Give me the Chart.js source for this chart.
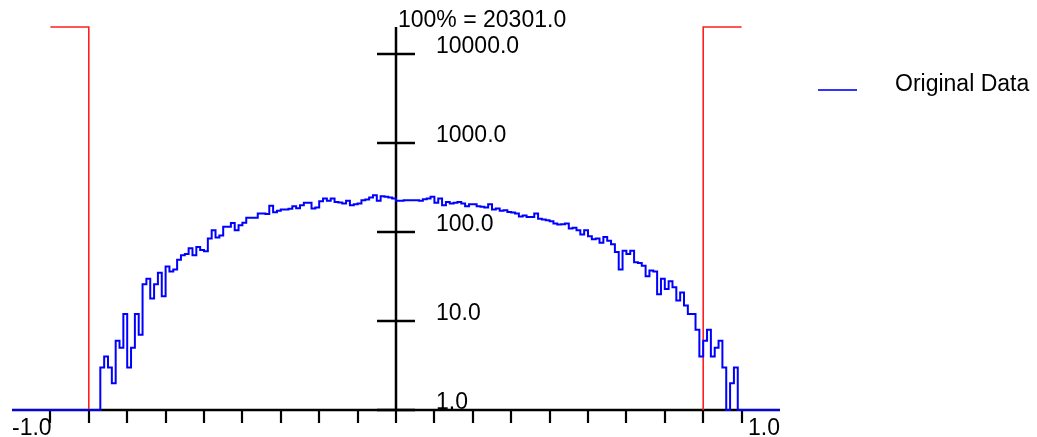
<!DOCTYPE html>
<html>
<head>
<meta charset="utf-8">
<script src="https://cdn.jsdelivr.net/npm/chart.js@4/dist/chart.umd.min.js"></script>
<style>
  html, body { margin: 0; padding: 0; background: #fff; }
  #wrap { width: 1037px; height: 437px; position: relative; }
</style>
</head>
<body>
<div id="wrap"><canvas id="myChart"></canvas></div>
<script>
// histogram bins, width 0.01, first bin starts at -0.77
var binStart = -0.77;
var binWidth = 0.01;
var counts = [
  3, 4, 3, 2, 6, 5, 12, 3, 5, 12,
  7, 26, 30, 18, 26, 35, 19, 41, 36, 38,
  49, 55, 57, 66, 55, 68, 63, 61, 85, 105,
  87, 92, 115, 115, 127, 105, 120, 128, 145, 145,
  145, 162, 162, 160, 198, 168, 174, 180, 180, 183,
  196, 186, 201, 214, 214, 185, 189, 223, 239, 225,
  239, 219, 216, 210, 225, 201, 206, 210, 229, 233,
  245, 261, 225, 254, 250, 245, 239,
  225, 225, 229, 229, 229, 229, 225, 235, 239, 250,
  214, 239, 201, 219, 210, 214, 219, 210, 196, 206,
  206, 196, 193, 189, 206, 180, 185, 174, 176, 169,
  166, 162, 150, 154, 148, 148, 162, 142, 139, 136,
  133, 125, 122, 123, 125, 110, 112, 105, 94, 105,
  90, 83, 85, 76, 88, 80, 73, 60, 38, 62,
  57, 62, 46, 45, 42, 32, 37, 36, 20, 30,
  23, 28, 24, 17, 21, 15, 12, 12, 8, 4,
  6, 8, 4, 5, 6, 3, 0, 2, 3
];
var totalLabel = '100% = 20301.0';
var fullScale = 20301;

// red limit markers at +-0.8
var limitX = [-0.9, -0.8, -0.8, null, 0.8, 0.8, 0.9];
var limitY = [20301, 20301, 1, null, 1, 20301, 20301];

var xTicks = [-0.9, -0.8, -0.7, -0.6, -0.5, -0.4, -0.3, -0.2, -0.1, 0.0,
              0.1, 0.2, 0.3, 0.4, 0.5, 0.6, 0.7, 0.8, 0.9];
var xEndLabels = ['-1.0', '1.0'];
var yTicks = [1, 10, 100, 1000, 10000];
var yTickLabels = ['1.0', '10.0', '100.0', '1000.0', '10000.0'];
var legendLabel = 'Original Data';

var FONT = '23px "Liberation Sans", Arial, sans-serif';

function histogramPoints(){
    var pts = [ { x: -1.0, y: 1 } ];
    for ( var i = 0; i < counts.length; i++ ){
        var edge = Math.round( ( binStart + i * binWidth ) * 100 ) / 100;
        pts.push( { x: edge, y: Math.max( counts[i], 1 ) } );
    }
    var endEdge = Math.round( ( binStart + counts.length * binWidth ) * 100 ) / 100;
    pts.push( { x: endEdge, y: 1 } );
    pts.push( { x: 1.0, y: 1 } );
    return pts;
}

function limitPoints(){
    var pts = [];
    for ( var i = 0; i < limitX.length; i++ ){
        if ( limitX[i] === null ) pts.push( { x: null, y: null } );
        else pts.push( { x: limitX[i], y: limitY[i] } );
    }
    return pts;
}

// axes drawn under the data, labels and legend on top
var axesPlugin = {
    id: 'crossAxes',
    beforeDatasetsDraw: function( chart ){
        var ctx = chart.ctx;
        var xs = chart.scales.x, ys = chart.scales.y;
        var x0 = xs.getPixelForValue( 0 );
        var yb = ys.getPixelForValue( 1 );
        var yt = ys.getPixelForValue( fullScale );
        ctx.save();
        ctx.strokeStyle = '#000';
        ctx.lineCap = 'butt';
        // bottom axis
        ctx.lineWidth = 2.5;
        ctx.beginPath();
        ctx.moveTo( xs.left, yb );
        ctx.lineTo( xs.right, yb );
        ctx.stroke();
        ctx.lineWidth = 2.2;
        for ( var i = 0; i < xTicks.length; i++ ){
            var px = Math.round( xs.getPixelForValue( xTicks[i] ) );
            ctx.beginPath();
            ctx.moveTo( px, yb );
            ctx.lineTo( px, yb + 13 );
            ctx.stroke();
        }
        // vertical axis through zero
        ctx.lineWidth = 2.5;
        ctx.beginPath();
        ctx.moveTo( x0, yt );
        ctx.lineTo( x0, yb );
        ctx.stroke();
        for ( var j = 0; j < yTicks.length; j++ ){
            var py = Math.round( ys.getPixelForValue( yTicks[j] ) );
            ctx.beginPath();
            ctx.moveTo( x0 - 19, py );
            ctx.lineTo( x0 + 19, py );
            ctx.stroke();
        }
        ctx.restore();
    },
    afterDraw: function( chart ){
        var ctx = chart.ctx;
        var xs = chart.scales.x, ys = chart.scales.y;
        var x0 = xs.getPixelForValue( 0 );
        var yb = ys.getPixelForValue( 1 );
        var yt = ys.getPixelForValue( fullScale );
        ctx.save();
        ctx.font = FONT;
        ctx.fillStyle = '#000';
        ctx.textBaseline = 'alphabetic';
        ctx.textAlign = 'left';
        for ( var j = 0; j < yTicks.length; j++ ){
            var py = ys.getPixelForValue( yTicks[j] );
            ctx.fillText( yTickLabels[j], x0 + 40, py - 1 );
        }
        ctx.fillText( totalLabel, x0 + 2, yt );
        ctx.fillText( xEndLabels[0], xs.left, yb + 25 );
        ctx.textAlign = 'right';
        ctx.fillText( xEndLabels[1], xs.right, yb + 25 );
        // legend
        ctx.strokeStyle = '#3333ff';
        ctx.lineWidth = 1.8;
        ctx.beginPath();
        ctx.moveTo( xs.right + 38, 90 );
        ctx.lineTo( xs.right + 77, 90 );
        ctx.stroke();
        ctx.textAlign = 'left';
        ctx.fillText( legendLabel, xs.right + 115, 91 );
        ctx.restore();
    }
};

var chart = new Chart( document.getElementById('myChart').getContext('2d'), {
    type: 'line',
    data: {
        datasets: [
            {
                label: legendLabel,
                data: histogramPoints(),
                borderColor: 'rgb(0,0,255)',
                borderWidth: 2,
                stepped: 'before',
                pointRadius: 0,
                fill: false,
                clip: 4,
                order: 1
            },
            {
                label: 'limits',
                data: limitPoints(),
                borderColor: 'rgb(255,30,30)',
                borderWidth: 1.6,
                pointRadius: 0,
                spanGaps: false,
                fill: false,
                clip: 4,
                order: 2
            }
        ]
    },
    options: {
        responsive: true,
        maintainAspectRatio: false,
        animation: false,
        layout: { padding: { left: 12, right: 257, top: 27, bottom: 27 } },
        plugins: {
            legend: { display: false },
            tooltip: { enabled: false }
        },
        scales: {
            x: { type: 'linear', min: -1, max: 1, display: false },
            y: { type: 'logarithmic', min: 1, max: fullScale, display: false }
        }
    },
    plugins: [ axesPlugin ]
});
</script>
</body>
</html>
